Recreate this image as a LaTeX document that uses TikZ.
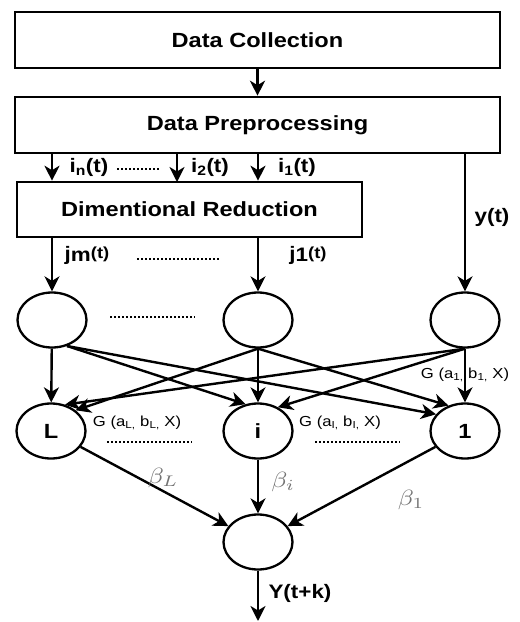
\documentclass[tikz,border=0pt]{standalone}
\usepackage{fontspec}
\setmainfont{Liberation Sans}[FakeStretch=1.15]
\usetikzlibrary{arrows.meta,shapes.geometric}
\begin{document}
\begin{tikzpicture}[x=1pt,y=-1pt,
 box/.style={draw, line width=2.6pt, inner sep=0pt, font=\fontsize{20.5}{23}\selectfont\bfseries},
 neuron/.style={draw, ellipse, line width=2.3pt, minimum width=69pt, minimum height=55pt, inner sep=0pt, font=\fontsize{20.5}{23}\selectfont\bfseries},
 arr/.style={line width=2.4pt, -{Stealth[length=15pt,width=15pt,inset=4.5pt]}},
 lab/.style={font=\fontsize{19.5}{22}\selectfont\bfseries, inner sep=0pt},
 glab/.style={font=\fontsize{14.5}{16}\selectfont, inner sep=0pt},
 blab/.style={text=black!55, inner sep=0pt},
 dotline/.style={line width=1.8pt, dash pattern=on 2pt off 2pt}
]
\useasboundingbox (0,0) rectangle (520,622);

% boxes
\node[box, minimum width=485pt, minimum height=56pt] (dc) at (257.5,40) {Data Collection};
\node[box, minimum width=485pt, minimum height=56pt] (pre) at (257.5,125) {Data Preprocessing};
\node[box, minimum width=345pt, minimum height=55pt] (dr) at (189.5,209.5) {Dimentional Reduction};

% neurons
\node[neuron] (t1) at (52,320) {};
\node[neuron] (t2) at (258,320) {};
\node[neuron] (t3) at (465,320) {};
\node[neuron] (bL) at (51,431) {L};
\node[neuron] (bI) at (258,431) {i};
\node[neuron] (b1) at (465,431) {1};
\node[neuron] (o) at (258,542) {};
\coordinate (i2) at (177,182);
\coordinate (yend) at (258,621);

% top arrows
\draw[arr] (dc) -- (pre);
\draw[arr] (pre.south -| t1) -- (dr.north -| t1);
\draw[arr] (pre.south -| i2) -- (i2);
\draw[arr] (pre.south -| t2) -- (dr.north -| t2);
\draw[arr] (pre.south -| t3) -- (t3);
\draw[arr] (dr.south -| t1) -- (t1);
\draw[arr] (dr.south -| t2) -- (t2);

% hidden connections
\draw[arr] (t1) -- (bL);
\draw[arr] (t1.-60) -- (bI.115);
\draw[arr] (t1.-60) -- (b1.150);
\draw[arr] (t2.south) -- (bL.40);
\draw[arr] (t2) -- (bI);
\draw[arr] (t2.south) -- (b1.123);
\draw[arr] (t3.south) -- (bL.62);
\draw[arr] (t3.south) -- (bI.50);
\draw[arr] (t3) -- (b1);

% output connections
\draw[arr] (bL) -- (o);
\draw[arr] (bI) -- (o);
\draw[arr] (b1) -- (o);
\draw[arr] (o) -- (yend);

% labels
\node[lab] at (89,167) {i\textsubscript{n}(t)};
\node[lab] at (210,167) {i\textsubscript{2}(t)};
\node[lab] at (297,167) {i\textsubscript{1}(t)};
\node[lab] at (492,217) {y(t)};
\node[lab] at (87,255) {j\raisebox{-1.5pt}{m}\raisebox{1.5pt}{\fontsize{16}{18}\selectfont(t)}};
\node[lab] at (308,255) {j\raisebox{-1.5pt}{1}\raisebox{1.5pt}{\fontsize{16}{18}\selectfont(t)}};
\node[glab] at (465,375) {G (a\textsubscript{1,} b\textsubscript{1,} X)};
\node[glab] at (137,423) {G (a\textsubscript{L,} b\textsubscript{L,} X)};
\node[glab] at (340,423) {G (a\textsubscript{I,} b\textsubscript{I,} X)};
\node[blab] at (163,478) {\scalebox{2.6}[2.2]{$\beta_L$}};
\node[blab] at (283,482) {\scalebox{2.6}[2.2]{$\beta_i$}};
\node[blab] at (411,500) {\scalebox{2.6}[2.2]{$\beta_1$}};
\node[lab] at (300,593) {Y(t+k)};

% dotted separators
\draw[dotline] (117,169) -- (160,169);
\draw[dotline] (137,259) -- (220,259);
\draw[dotline] (110,317) -- (195,317);
\draw[dotline] (107,442) -- (192,442);
\draw[dotline] (315,442) -- (400,442);
\end{tikzpicture}
\end{document}
